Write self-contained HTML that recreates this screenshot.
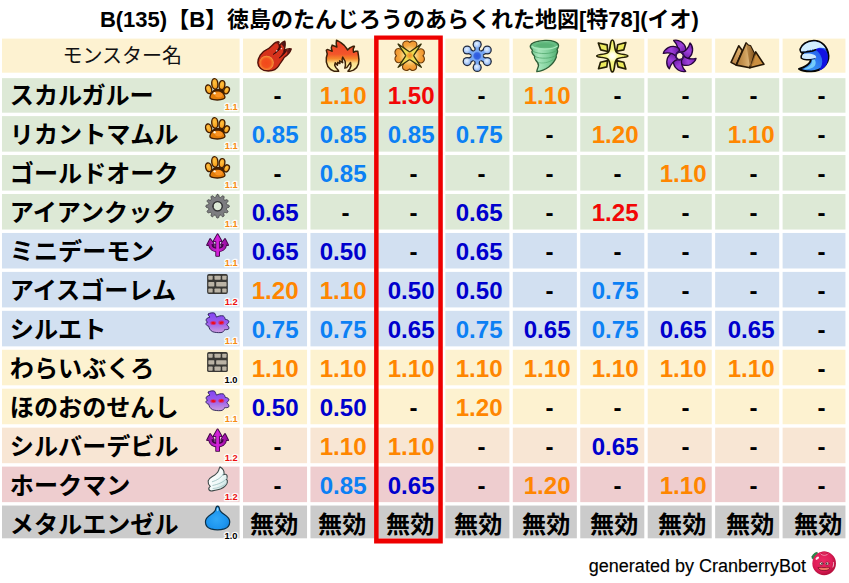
<!DOCTYPE html>
<html lang="ja"><head><meta charset="utf-8"><title>B(135) monster resistance table</title>
<style>
html,body{margin:0;padding:0;background:#fff;}
body{width:849px;height:583px;position:relative;overflow:hidden;font-family:"Liberation Sans",sans-serif;}
svg.main{position:absolute;left:0;top:0;display:block;}
svg.main text{font-family:"Liberation Sans","Noto Sans CJK JP",sans-serif;}
svg.main text.n{font-size:24.1px;font-weight:bold;fill:#000;}
svg.main text.v{font-size:24.1px;font-weight:bold;text-anchor:middle;}
svg.main text.m{font-size:24.1px;font-weight:bold;fill:#000;}
svg.main text.sh{font-size:9.3px;font-weight:bold;fill:none;stroke:#fff;stroke-opacity:.9;stroke-width:2.7;stroke-linejoin:round;}
svg.main text.s{font-size:9.3px;font-weight:bold;}
.foot{position:absolute;left:588.6px;top:555.3px;font-size:18px;line-height:22px;color:transparent;white-space:nowrap;letter-spacing:0;}
table.sem{position:absolute;left:0;top:36px;width:846px;border-collapse:collapse;color:transparent;font-size:10px;line-height:10px;pointer-events:none;table-layout:fixed;}
table.sem caption{position:absolute;top:-30px;left:100px;white-space:nowrap;}
table.sem th,table.sem td{height:38.9px;padding:0;overflow:hidden;white-space:nowrap;font-weight:normal;}
table.sem th:first-child{width:241px;}
</style></head><body>
<svg class="main" width="849" height="583" viewBox="0 0 849 583">
<defs>

<radialGradient id="gr-ball" gradientUnits="userSpaceOnUse" cx="185" cy="405" r="120"><stop offset="0" stop-color="#F2481A"/><stop offset=".6" stop-color="#F2501E"/><stop offset=".85" stop-color="#F57C2C"/><stop offset="1" stop-color="#F8A850"/></radialGradient>
<linearGradient id="gr-flame" gradientUnits="userSpaceOnUse" x1="0" y1="35" x2="0" y2="540"><stop offset="0" stop-color="#EE4228"/><stop offset=".45" stop-color="#F2552A"/><stop offset=".6" stop-color="#F58A2C"/><stop offset=".74" stop-color="#FBE08C"/><stop offset="1" stop-color="#FBF8B4"/></linearGradient>
<radialGradient id="gr-petal" gradientUnits="userSpaceOnUse" cx="335" cy="285" r="250"><stop offset="0" stop-color="#FFF2B8"/><stop offset=".35" stop-color="#FBDC88"/><stop offset=".65" stop-color="#F5A840"/><stop offset="1" stop-color="#EE8E28"/></radialGradient>
<radialGradient id="gr-lightc" gradientUnits="userSpaceOnUse" cx="335" cy="285" r="75"><stop offset="0" stop-color="#F28C28"/><stop offset=".5" stop-color="#F2A030" stop-opacity=".8"/><stop offset="1" stop-color="#EED640" stop-opacity="0"/></radialGradient>
<radialGradient id="gr-icec" cx=".42" cy=".38" r=".65"><stop offset="0" stop-color="#E6F2FF"/><stop offset=".55" stop-color="#B6D2FA"/><stop offset="1" stop-color="#86AEF0"/></radialGradient>
<radialGradient id="gr-icecore" gradientUnits="userSpaceOnUse" cx="327" cy="290" r="70"><stop offset="0" stop-color="#2C58DE"/><stop offset=".7" stop-color="#3564E2"/><stop offset="1" stop-color="#6C9CF0"/></radialGradient>
<linearGradient id="gr-wind" gradientUnits="userSpaceOnUse" x1="100" y1="0" x2="560" y2="0"><stop offset="0" stop-color="#6CC088"/><stop offset=".3" stop-color="#A8E6BC"/><stop offset=".65" stop-color="#80D09C"/><stop offset="1" stop-color="#4EAA6C"/></linearGradient>
<radialGradient id="gr-bomb" gradientUnits="userSpaceOnUse" cx="330" cy="290" r="250"><stop offset="0" stop-color="#FFFFFF"/><stop offset=".18" stop-color="#FFFFE0"/><stop offset=".4" stop-color="#F8F888"/><stop offset="1" stop-color="#F0F060"/></radialGradient>
<linearGradient id="gr-dark" gradientUnits="userSpaceOnUse" x1="-90" y1="-240" x2="60" y2="-50"><stop offset="0" stop-color="#7A22B6"/><stop offset=".5" stop-color="#9E40DC"/><stop offset="1" stop-color="#6E1CA6"/></linearGradient>
<linearGradient id="gr-earthL" gradientUnits="userSpaceOnUse" x1="190" y1="125" x2="120" y2="430"><stop offset="0" stop-color="#E4B874"/><stop offset="1" stop-color="#B88244"/></linearGradient>
<linearGradient id="gr-earthM" gradientUnits="userSpaceOnUse" x1="160" y1="0" x2="370" y2="0"><stop offset="0" stop-color="#AE7A38"/><stop offset=".6" stop-color="#CC9C58"/><stop offset="1" stop-color="#DEB87C"/></linearGradient>
<linearGradient id="gr-earthR" gradientUnits="userSpaceOnUse" x1="340" y1="0" x2="440" y2="0"><stop offset="0" stop-color="#B48444"/><stop offset="1" stop-color="#85561F"/></linearGradient>
<linearGradient id="gr-water" gradientUnits="userSpaceOnUse" x1="520" y1="150" x2="150" y2="520"><stop offset="0" stop-color="#2050EC"/><stop offset=".4" stop-color="#2C70F0"/><stop offset=".75" stop-color="#3890F2"/><stop offset="1" stop-color="#2878E8"/></linearGradient>
<radialGradient id="gr-toe" cx=".45" cy=".4" r=".7"><stop offset="0" stop-color="#FFC444"/><stop offset=".6" stop-color="#F8A422"/><stop offset="1" stop-color="#EE8C10"/></radialGradient>
<linearGradient id="gr-ghost" gradientUnits="userSpaceOnUse" x1="0" y1="50" x2="0" y2="365"><stop offset="0" stop-color="#8444F2"/><stop offset=".5" stop-color="#9A5CEC"/><stop offset="1" stop-color="#CC9CDE"/></linearGradient>
<linearGradient id="gr-demon" gradientUnits="userSpaceOnUse" x1="100" y1="0" x2="470" y2="0"><stop offset="0" stop-color="#8C0C94"/><stop offset=".5" stop-color="#D422DA"/><stop offset="1" stop-color="#860A8E"/></linearGradient>
<linearGradient id="gr-wing" gradientUnits="userSpaceOnUse" x1="150" y1="150" x2="420" y2="330"><stop offset="0" stop-color="#FFFFFF"/><stop offset=".6" stop-color="#EEF8F8"/><stop offset="1" stop-color="#C8E0E0"/></linearGradient>
<radialGradient id="gr-slime" gradientUnits="userSpaceOnUse" cx="270" cy="230" r="230"><stop offset="0" stop-color="#30A8F8"/><stop offset=".7" stop-color="#1C94EE"/><stop offset="1" stop-color="#1480D8"/></radialGradient>
<radialGradient id="gr-cran" gradientUnits="userSpaceOnUse" cx="330" cy="270" r="190"><stop offset="0" stop-color="#EC2A64"/><stop offset=".7" stop-color="#E01C58"/><stop offset="1" stop-color="#B8103E"/></radialGradient>
<filter id="f-blur6" x="-50%" y="-50%" width="200%" height="200%"><feGaussianBlur stdDeviation="7"/></filter>
<g id="ic-fireball"><g transform="translate(-20.030 -17.55) scale(0.06173)" stroke-linejoin="round" stroke-linecap="round">
<path d="M46 400C46 320 100 225 195 185C250 160 285 100 335 72C358 62 385 60 390 66C380 88 380 112 396 132C408 100 448 65 482 50C494 80 490 140 472 200C505 182 560 172 587 178C574 220 525 280 472 315C455 350 420 395 388 445C355 505 290 534 215 534C110 532 46 472 46 400Z" fill="#D6321C" stroke="#52120A" stroke-width="22"/>
<path d="M425 105C450 75 470 60 482 52C490 80 488 120 474 170C465 135 445 115 425 105Z" fill="#3A1016" opacity=".85"/>
<path d="M515 205C545 182 570 176 585 178C572 205 550 235 520 262C528 240 526 220 515 205Z" fill="#3A1016" opacity=".75"/>
<path d="M330 82C355 66 380 62 388 66C382 80 378 100 388 125C372 102 352 90 330 82Z" fill="#6A1612" opacity=".7"/>
<path d="M396 128C392 170 350 225 296 266C345 235 400 200 420 150Z" fill="#3A0A0A" stroke="#3A0A0A" stroke-width="14"/>
<path d="M472 198C462 245 430 290 390 326C440 295 490 250 512 205Z" fill="#420C0C" stroke="#420C0C" stroke-width="12"/>
<circle cx="352" cy="208" r="13" fill="#fff" opacity=".75"/><circle cx="428" cy="172" r="13" fill="#fff" opacity=".75"/>
<circle cx="188" cy="402" r="116" fill="url(#gr-ball)"/>
</g></g>
<g id="ic-flame"><g transform="translate(-20.475 -17.55) scale(0.06173)" stroke-linejoin="round" stroke-linecap="round">
<path d="M235 35L300 70L360 120L400 170L415 195L450 160L500 135L525 135L505 180L510 230L545 215L580 215L590 280L598 350L590 420L560 480L510 520L450 540L420 538L450 500L470 450L462 395L430 440L400 480L370 488L380 440L375 380L335 310L325 350L335 400L285 370L290 415L255 395L250 440L215 400L205 440L225 480L260 520L270 540L200 540L140 510L95 460L70 390L70 320L85 260L70 200L85 185L130 200L165 215L150 160L165 115L200 130L240 145L230 90Z" fill="url(#gr-flame)" stroke="#3A2008" stroke-width="24"/>
</g></g>
<g id="ic-light"><g transform="translate(-20.925 -17.55) scale(0.06173)" stroke-linejoin="round" stroke-linecap="round"><path d="M335 255C300 222 225 165 222 108C220 62 270 42 300 50C320 55 335 72 335 72C335 72 350 55 372 50C405 42 455 62 452 108C448 165 370 222 335 255Z" transform="rotate(0 335 287)" fill="url(#gr-petal)" stroke="#6A3C0C" stroke-width="18"/><path d="M335 255C300 222 225 165 222 108C220 62 270 42 300 50C320 55 335 72 335 72C335 72 350 55 372 50C405 42 455 62 452 108C448 165 370 222 335 255Z" transform="rotate(90 335 287)" fill="url(#gr-petal)" stroke="#6A3C0C" stroke-width="18"/><path d="M335 255C300 222 225 165 222 108C220 62 270 42 300 50C320 55 335 72 335 72C335 72 350 55 372 50C405 42 455 62 452 108C448 165 370 222 335 255Z" transform="rotate(180 335 287)" fill="url(#gr-petal)" stroke="#6A3C0C" stroke-width="18"/><path d="M335 255C300 222 225 165 222 108C220 62 270 42 300 50C320 55 335 72 335 72C335 72 350 55 372 50C405 42 455 62 452 108C448 165 370 222 335 255Z" transform="rotate(270 335 287)" fill="url(#gr-petal)" stroke="#6A3C0C" stroke-width="18"/><path d="M335 226L520 98L397 287L524 474L335 348L148 474L273 287L148 98Z" fill="#ECDC54" stroke="#33300A" stroke-width="22"/><circle cx="335" cy="287" r="75" fill="url(#gr-lightc)"/></g></g>
<g id="ic-ice"><g transform="translate(-20.375 -17.55) scale(0.06173)" stroke-linejoin="round" stroke-linecap="round"><line x1="327" y1="290" x2="327" y2="105" stroke="#222A3C" stroke-width="92"/><line x1="327" y1="290" x2="490" y2="195" stroke="#222A3C" stroke-width="92"/><line x1="327" y1="290" x2="490" y2="382" stroke="#222A3C" stroke-width="92"/><line x1="327" y1="290" x2="327" y2="478" stroke="#222A3C" stroke-width="92"/><line x1="327" y1="290" x2="165" y2="382" stroke="#222A3C" stroke-width="92"/><line x1="327" y1="290" x2="165" y2="195" stroke="#222A3C" stroke-width="92"/><circle cx="327" cy="105" r="74" fill="#222A3C"/><circle cx="490" cy="195" r="74" fill="#222A3C"/><circle cx="490" cy="382" r="74" fill="#222A3C"/><circle cx="327" cy="478" r="74" fill="#222A3C"/><circle cx="165" cy="382" r="74" fill="#222A3C"/><circle cx="165" cy="195" r="74" fill="#222A3C"/><polygon points="429,349 327,408 225,349 225,231 327,172 429,231" fill="#222A3C"/><line x1="327" y1="290" x2="327" y2="105" stroke="#78A8F2" stroke-width="52"/><line x1="327" y1="290" x2="490" y2="195" stroke="#78A8F2" stroke-width="52"/><line x1="327" y1="290" x2="490" y2="382" stroke="#78A8F2" stroke-width="52"/><line x1="327" y1="290" x2="327" y2="478" stroke="#78A8F2" stroke-width="52"/><line x1="327" y1="290" x2="165" y2="382" stroke="#78A8F2" stroke-width="52"/><line x1="327" y1="290" x2="165" y2="195" stroke="#78A8F2" stroke-width="52"/><polygon points="419,343 327,396 235,343 235,237 327,184 419,237" fill="#78A8F2"/><circle cx="327" cy="105" r="54" fill="url(#gr-icec)"/><circle cx="490" cy="195" r="54" fill="url(#gr-icec)"/><circle cx="490" cy="382" r="54" fill="url(#gr-icec)"/><circle cx="327" cy="478" r="54" fill="url(#gr-icec)"/><circle cx="165" cy="382" r="54" fill="url(#gr-icec)"/><circle cx="165" cy="195" r="54" fill="url(#gr-icec)"/><circle cx="327" cy="290" r="70" fill="url(#gr-icecore)"/></g></g>
<g id="ic-wind"><g transform="translate(-20.825 -17.55) scale(0.06173)" stroke-linejoin="round" stroke-linecap="round">
<path d="M100 130C110 85 200 45 340 38C460 32 560 70 560 125C560 150 545 165 535 190C548 205 545 235 530 262C520 275 518 290 524 308C510 350 470 415 400 470C340 515 260 540 207 545C205 520 225 490 235 450C240 420 215 385 190 360C170 340 165 315 172 295C150 275 130 250 127 225C128 210 135 202 138 198C115 180 98 155 100 130Z" fill="url(#gr-wind)" stroke="#2E5E38" stroke-width="21"/>
<ellipse cx="335" cy="112" rx="196" ry="56" fill="#66BC82"/>
<ellipse cx="340" cy="120" rx="150" ry="34" fill="#58B074" opacity=".8"/>
<path d="M132 138C200 195 470 195 540 130" fill="none" stroke="#A6E8BA" stroke-width="18"/>
<path d="M145 215C230 268 450 268 532 200" fill="none" stroke="#4AA266" stroke-width="13" opacity=".85"/>
<path d="M178 300C260 342 440 338 518 282" fill="none" stroke="#4AA266" stroke-width="13" opacity=".85"/>
<path d="M228 395C290 420 400 400 462 355" fill="none" stroke="#3A9456" stroke-width="11" opacity=".6"/>
</g></g>
<g id="ic-bomb"><g transform="translate(-20.275 -17.55) scale(0.06173)" stroke-linejoin="round" stroke-linecap="round">
<g fill="#ECEA5C" stroke="#241F06" stroke-width="27">
<path d="M102 80L245 112L255 218L142 192Z"/><path d="M548 73L416 110L398 215L515 192Z"/><path d="M106 498L138 392L252 366L240 468Z"/><path d="M548 503L515 392L398 366L422 468Z"/></g>
<path d="M330 32C345 32 358 60 365 120C370 170 380 215 400 235C420 255 470 262 520 268C560 274 580 282 580 290C580 298 560 306 520 312C470 318 420 325 400 345C380 365 370 410 365 460C358 520 345 550 330 550C315 550 302 520 295 460C290 410 280 365 260 345C240 325 190 318 140 312C100 306 78 298 78 290C78 282 100 274 140 268C190 262 240 255 260 235C280 215 290 170 295 120C302 60 315 32 330 32Z" fill="url(#gr-bomb)" stroke="#241F06" stroke-width="27"/>
</g></g>
<g id="ic-dark"><g transform="translate(-20.725 -17.55) scale(0.06173)" stroke-linejoin="round" stroke-linecap="round"><g transform="translate(335 290)"><path d="M-98 -250C-15 -272 78 -212 100 -122C108 -88 96 -58 76 -46L22 -60L-34 -52C-18 -112 -40 -188 -98 -250Z" transform="rotate(0)" fill="url(#gr-dark)" stroke="#26063A" stroke-width="21"/><path d="M-98 -250C-15 -272 78 -212 100 -122C108 -88 96 -58 76 -46L22 -60L-34 -52C-18 -112 -40 -188 -98 -250Z" transform="rotate(60)" fill="url(#gr-dark)" stroke="#26063A" stroke-width="21"/><path d="M-98 -250C-15 -272 78 -212 100 -122C108 -88 96 -58 76 -46L22 -60L-34 -52C-18 -112 -40 -188 -98 -250Z" transform="rotate(120)" fill="url(#gr-dark)" stroke="#26063A" stroke-width="21"/><path d="M-98 -250C-15 -272 78 -212 100 -122C108 -88 96 -58 76 -46L22 -60L-34 -52C-18 -112 -40 -188 -98 -250Z" transform="rotate(180)" fill="url(#gr-dark)" stroke="#26063A" stroke-width="21"/><path d="M-98 -250C-15 -272 78 -212 100 -122C108 -88 96 -58 76 -46L22 -60L-34 -52C-18 -112 -40 -188 -98 -250Z" transform="rotate(240)" fill="url(#gr-dark)" stroke="#26063A" stroke-width="21"/><path d="M-98 -250C-15 -272 78 -212 100 -122C108 -88 96 -58 76 -46L22 -60L-34 -52C-18 -112 -40 -188 -98 -250Z" transform="rotate(300)" fill="url(#gr-dark)" stroke="#26063A" stroke-width="21"/><circle r="63" fill="none" stroke="#34105A" stroke-width="28"/></g></g></g>
<g id="ic-earth"><g transform="translate(-20.175 -17.55) scale(0.06173)" stroke-linejoin="round" stroke-linecap="round">
<g stroke="#241606" stroke-width="26">
<path d="M65 395L190 125L250 205L150 440Z" fill="url(#gr-earthL)"/>
<path d="M150 440L310 80L345 118L378 125L440 245L370 482Z" fill="url(#gr-earthM)"/>
<path d="M370 482L465 225L598 425Z" fill="#CC9040"/>
</g>
<path d="M310 90L343 122L376 130L436 248L372 470L345 300Z" fill="url(#gr-earthR)"/>
<path d="M372 470L462 240L440 400Z" fill="#B07A34" opacity=".7"/>
</g></g>
<g id="ic-water"><g transform="translate(-20.625 -17.55) scale(0.06173)" stroke-linejoin="round" stroke-linecap="round">
<path d="M100 182C120 110 210 45 320 42C440 40 550 140 560 290C565 420 450 535 280 540C200 542 120 525 80 500C150 480 240 440 265 380C272 365 270 350 265 345C220 352 150 350 122 325C112 300 130 270 150 255C125 240 100 215 100 182Z" fill="url(#gr-water)" stroke="#060606" stroke-width="30"/>
<path d="M345 185C400 150 480 165 535 235C560 300 555 380 520 440C490 490 440 520 400 530C450 470 470 400 450 330C435 270 395 215 345 185Z" fill="#1212E2"/>
<path d="M300 330C345 340 370 400 335 455C300 495 220 515 150 508C220 480 280 440 290 390C295 365 290 345 300 330Z" fill="#74CCFA"/>
<path d="M113 185C135 115 215 58 320 55C400 55 475 95 515 175C470 150 400 150 350 178C340 190 325 204 320 200L300 180L285 205L265 185L250 210L220 200L190 220L150 215L125 230C115 212 110 195 113 185Z" fill="#D2EEFF"/>
<path d="M150 258C200 245 290 245 340 280C360 295 362 315 355 335C330 322 300 325 270 340C220 345 160 342 130 320C125 295 135 275 150 258Z" fill="#CBE9FF"/>
<path d="M122 232L190 226L250 216L300 210L348 190" fill="none" stroke="#060606" stroke-width="26"/>
<path d="M262 348C290 350 320 340 345 330" fill="none" stroke="#0A0A30" stroke-width="14" opacity=".8"/>
</g></g>
<g id="ic-paw"><g transform="translate(0 -1.550) scale(0.06173)" stroke-linejoin="round" stroke-linecap="round"><path d="M185 255L245 205L355 212L410 262L385 305L195 305Z" fill="#3E1C02"/><path d="M160 340C165 290 210 240 280 238C350 238 400 290 405 340C405 370 380 385 280 388C190 385 158 370 160 340Z" fill="#E27C0A" stroke="#431F02" stroke-width="22"/><ellipse cx="305" cy="305" rx="62" ry="42" fill="#FF9828" opacity=".85"/><circle cx="236" cy="280" r="19" fill="#FFF4D8"/><ellipse cx="140" cy="215" rx="48" ry="72" transform="rotate(-15 140 215)" fill="url(#gr-toe)" stroke="#431F02" stroke-width="22"/><ellipse cx="240" cy="127" rx="50" ry="85" transform="rotate(-5 240 127)" fill="url(#gr-toe)" stroke="#431F02" stroke-width="22"/><ellipse cx="356" cy="147" rx="46" ry="73" transform="rotate(8 356 147)" fill="url(#gr-toe)" stroke="#431F02" stroke-width="22"/><ellipse cx="430" cy="232" rx="42" ry="59" transform="rotate(25 430 232)" fill="url(#gr-toe)" stroke="#431F02" stroke-width="22"/></g></g>
<g id="ic-gear"><g transform="translate(0 -1.590) scale(0.06173)" stroke-linejoin="round" stroke-linecap="round"><path d="M285 24L289 24L293 25L297 27L301 31L304 37L307 46L310 56L312 62L315 66L317 69L320 70L324 71L327 72L330 72L334 72L338 69L343 65L350 58L357 51L363 47L368 46L373 46L377 48L380 50L384 52L387 55L390 58L391 63L391 71L388 80L386 89L385 96L385 101L386 104L388 107L390 110L393 112L396 114L399 115L404 115L411 114L420 112L429 109L437 109L442 110L445 113L448 116L450 120L452 123L454 127L454 132L453 137L449 143L442 150L435 157L431 162L428 166L428 170L428 173L429 176L430 180L431 183L434 185L438 188L444 190L454 193L463 196L469 199L473 203L475 207L476 211L476 215L476 219L475 223L473 227L469 231L463 234L454 237L444 240L438 242L434 245L431 247L430 250L429 254L428 257L428 260L428 264L431 268L435 273L442 280L449 287L453 293L454 298L454 303L452 307L450 310L448 314L445 317L442 320L437 321L429 321L420 318L411 316L404 315L399 315L396 316L393 318L390 320L388 323L386 326L385 329L385 334L386 341L388 350L391 359L391 367L390 372L387 375L384 378L381 380L377 382L373 384L368 384L363 383L357 379L350 372L343 365L338 361L334 358L330 358L327 358L324 359L320 360L317 361L315 364L312 368L310 374L307 384L304 393L301 399L297 403L293 405L289 406L285 406L281 406L277 405L273 403L269 399L266 393L263 384L260 374L258 368L255 364L253 361L250 360L246 359L243 358L240 358L236 358L232 361L227 365L220 372L213 379L207 383L202 384L197 384L193 382L189 380L186 378L183 375L180 372L179 367L179 359L182 350L184 341L185 334L185 329L184 326L182 323L180 320L177 318L174 316L171 315L166 315L159 316L150 318L141 321L133 321L128 320L125 317L122 314L120 311L118 307L116 303L116 298L117 293L121 287L128 280L135 273L139 268L142 264L142 260L142 257L141 254L140 250L139 247L136 245L132 242L126 240L116 237L107 234L101 231L97 227L95 223L94 219L94 215L94 211L95 207L97 203L101 199L107 196L116 193L126 190L132 188L136 185L139 183L140 180L141 176L142 173L142 170L142 166L139 162L135 157L128 150L121 143L117 137L116 132L116 127L118 123L120 120L122 116L125 113L128 110L133 109L141 109L150 112L159 114L166 115L171 115L174 114L177 112L180 110L182 107L184 104L185 101L185 96L184 89L182 80L179 71L179 63L180 58L183 55L186 52L190 50L193 48L197 46L202 46L207 47L213 51L220 58L227 65L232 69L236 72L240 72L243 72L246 71L250 70L253 69L255 66L258 62L260 56L263 46L266 37L269 31L273 27L277 25L281 24ZM285 215m-72 0a72 72 0 1 0 144 0a72 72 0 1 0 -144 0Z" fill="#7C7C80" fill-rule="evenodd" stroke="#3E3E40" stroke-width="13"/><circle cx="285" cy="215" r="78" fill="none" stroke="#303032" stroke-width="17"/></g></g>
<g id="ic-demon"><g transform="translate(0 -1.610) scale(0.06173)" stroke-linejoin="round" stroke-linecap="round"><g fill="#3C0442" stroke="#3C0442" stroke-width="28"><path d="M285 36L350 148L220 148Z"/><path d="M165 112L222 192L114 212Z"/><path d="M405 112L456 212L348 192Z"/><rect x="262" y="140" width="48" height="246"/></g><path d="M175 200C180 320 390 320 395 200Z" fill="#4A0850"/><path d="M166 205C172 325 398 325 404 205" fill="none" stroke="#3C0442" stroke-width="68"/><path d="M166 205C172 325 398 325 404 205" fill="none" stroke="url(#gr-demon)" stroke-width="42"/><g fill="url(#gr-demon)"><path d="M285 36L350 148L220 148Z"/><path d="M165 112L222 192L114 212Z"/><path d="M405 112L456 212L348 192Z"/><rect x="262" y="140" width="48" height="246"/></g><path d="M240 168V240M331 168V240" stroke="#E4D6EE" stroke-width="13" stroke-linecap="butt" stroke-dasharray="17 32" fill="none"/></g></g>
<g id="ic-brick"><g transform="translate(0 -1.620) scale(0.06173)" stroke-linejoin="round" stroke-linecap="round"><rect x="115" y="50" width="336" height="322" rx="30" fill="#393835"/><rect x="135" y="75" width="70" height="65" rx="10" fill="#BAB3A5"/><rect x="235" y="75" width="100" height="65" rx="10" fill="#BAB3A5"/><rect x="360" y="75" width="70" height="65" rx="10" fill="#BAB3A5"/><rect x="135" y="180" width="97" height="70" rx="10" fill="#BAB3A5"/><rect x="262" y="180" width="168" height="70" rx="10" fill="#BAB3A5"/><rect x="135" y="285" width="70" height="65" rx="10" fill="#BAB3A5"/><rect x="235" y="285" width="100" height="65" rx="10" fill="#BAB3A5"/><rect x="360" y="285" width="70" height="65" rx="10" fill="#BAB3A5"/></g></g>
<g id="ic-ghost"><g transform="translate(0 -1.630) scale(0.06173)" stroke-linejoin="round" stroke-linecap="round">
<path d="M135 65C150 45 215 40 238 52C252 70 255 100 268 115C295 100 340 85 378 96C400 110 405 135 407 150C440 155 470 170 468 188C462 215 445 228 432 236C455 255 475 285 468 302C450 322 420 320 400 316C395 340 370 362 340 366C290 370 230 362 205 352C170 335 145 300 142 262C115 258 95 240 96 222C100 205 112 200 122 198C100 185 92 160 106 142C125 125 150 118 162 114C140 100 128 80 135 65Z" fill="url(#gr-ghost)" stroke="#2A2058" stroke-width="15"/>
<g filter="url(#f-blur6)"><ellipse cx="215" cy="212" rx="48" ry="32" fill="#E8184A" opacity=".7"/><ellipse cx="345" cy="206" rx="48" ry="34" fill="#E8184A" opacity=".7"/></g>
<ellipse cx="215" cy="212" rx="30" ry="17" transform="rotate(14 215 212)" fill="#EE0C18"/><ellipse cx="345" cy="206" rx="30" ry="18" transform="rotate(-14 345 206)" fill="#EE0C18"/>
</g></g>
<g id="ic-wing"><g transform="translate(0 -1.690) scale(0.06173)" stroke-linejoin="round" stroke-linecap="round">
<path d="M325 15C362 35 392 75 390 118C388 128 382 135 376 142C400 128 426 130 436 150C446 175 442 200 430 220C440 226 447 246 442 268C432 305 400 340 340 370C300 388 230 398 182 406C158 400 140 380 142 360C148 345 158 335 166 330C140 305 128 270 132 240C138 210 165 190 200 170C245 145 290 105 302 70C310 50 312 30 325 15Z" fill="url(#gr-wing)" stroke="#3C4848" stroke-width="18"/>
<path d="M200 255C270 235 350 190 388 118" fill="none" stroke="#9CC0C0" stroke-width="14"/>
<path d="M208 315C290 300 400 255 438 195" fill="none" stroke="#9CC0C0" stroke-width="14"/>
<path d="M212 365C290 360 385 320 425 290" fill="none" stroke="#9CC0C0" stroke-width="12"/>
</g></g>
<g id="ic-slime"><g transform="translate(0 -1.700) scale(0.06173)" stroke-linejoin="round" stroke-linecap="round">
<path d="M285 18C302 18 314 40 318 72C322 100 345 122 390 150C445 185 482 225 482 275C480 335 440 372 395 387C330 405 240 405 175 387C128 372 90 335 88 275C88 225 125 185 180 150C225 122 248 100 252 72C256 40 268 18 285 18Z" fill="url(#gr-slime)" stroke="#0A3048" stroke-width="19"/>
<ellipse cx="285" cy="72" rx="14" ry="30" fill="#A8E0FF" opacity=".85"/>
</g></g>
<g id="ic-cranberry"><g transform="scale(0.06861)" stroke-linejoin="round" stroke-linecap="round">
<path d="M175 200C185 165 215 140 250 135C262 150 262 175 250 195C232 215 205 235 188 238C178 228 172 215 175 200Z" fill="#2C8A4C" stroke="#1C5A30" stroke-width="8"/>
<circle cx="352" cy="297" r="172" fill="url(#gr-cran)"/>
<ellipse cx="355" cy="150" rx="48" ry="20" fill="#D81850"/>
<path d="M305 160C320 185 390 185 405 160" fill="none" stroke="#FFE8EE" stroke-width="9"/>
<ellipse cx="252" cy="222" rx="30" ry="17" transform="rotate(-40 252 222)" fill="#fff" opacity=".9"/>
<path d="M488 285C492 305 488 335 480 350" fill="none" stroke="#fff" stroke-width="12" opacity=".85"/>
<ellipse cx="312" cy="300" rx="27" ry="22" fill="#F8F4E8" stroke="#6A0824" stroke-width="9"/><ellipse cx="396" cy="300" rx="27" ry="22" fill="#F8F4E8" stroke="#6A0824" stroke-width="9"/>
<circle cx="318" cy="301" r="11" fill="#1A1014"/><circle cx="390" cy="301" r="11" fill="#1A1014"/>
<path d="M266 362C276 350 300 356 350 358C400 356 424 350 436 362C432 390 398 402 350 402C302 402 270 390 266 362Z" fill="#F07464" stroke="#7E0A28" stroke-width="11"/>
<ellipse cx="355" cy="146" rx="46" ry="17" fill="#E8285E" stroke="#A80E3A" stroke-width="6"/>
</g></g>

</defs>
<rect x="2.00" y="38.60" width="237.60" height="34.10" fill="#FDF2D1"/>
<rect x="243.00" y="38.60" width="64.05" height="34.10" fill="#FDF2D1"/>
<rect x="310.45" y="38.60" width="64.05" height="34.10" fill="#FDF2D1"/>
<rect x="377.90" y="38.60" width="64.05" height="34.10" fill="#FDF2D1"/>
<rect x="445.35" y="38.60" width="64.05" height="34.10" fill="#FDF2D1"/>
<rect x="512.80" y="38.60" width="64.05" height="34.10" fill="#FDF2D1"/>
<rect x="580.25" y="38.60" width="64.05" height="34.10" fill="#FDF2D1"/>
<rect x="647.70" y="38.60" width="64.05" height="34.10" fill="#FDF2D1"/>
<rect x="715.15" y="38.60" width="64.05" height="34.10" fill="#FDF2D1"/>
<rect x="782.60" y="38.60" width="62.85" height="34.10" fill="#FDF2D1"/>
<rect x="2.00" y="78.14" width="237.60" height="34.56" fill="#DDE9D6"/>
<rect x="243.00" y="78.14" width="64.05" height="34.56" fill="#DDE9D6"/>
<rect x="310.45" y="78.14" width="64.05" height="34.56" fill="#DDE9D6"/>
<rect x="377.90" y="78.14" width="64.05" height="34.56" fill="#DDE9D6"/>
<rect x="445.35" y="78.14" width="64.05" height="34.56" fill="#DDE9D6"/>
<rect x="512.80" y="78.14" width="64.05" height="34.56" fill="#DDE9D6"/>
<rect x="580.25" y="78.14" width="64.05" height="34.56" fill="#DDE9D6"/>
<rect x="647.70" y="78.14" width="64.05" height="34.56" fill="#DDE9D6"/>
<rect x="715.15" y="78.14" width="64.05" height="34.56" fill="#DDE9D6"/>
<rect x="782.60" y="78.14" width="62.85" height="34.56" fill="#DDE9D6"/>
<rect x="2.00" y="116.10" width="237.60" height="35.55" fill="#DDE9D6"/>
<rect x="243.00" y="116.10" width="64.05" height="35.55" fill="#DDE9D6"/>
<rect x="310.45" y="116.10" width="64.05" height="35.55" fill="#DDE9D6"/>
<rect x="377.90" y="116.10" width="64.05" height="35.55" fill="#DDE9D6"/>
<rect x="445.35" y="116.10" width="64.05" height="35.55" fill="#DDE9D6"/>
<rect x="512.80" y="116.10" width="64.05" height="35.55" fill="#DDE9D6"/>
<rect x="580.25" y="116.10" width="64.05" height="35.55" fill="#DDE9D6"/>
<rect x="647.70" y="116.10" width="64.05" height="35.55" fill="#DDE9D6"/>
<rect x="715.15" y="116.10" width="64.05" height="35.55" fill="#DDE9D6"/>
<rect x="782.60" y="116.10" width="62.85" height="35.55" fill="#DDE9D6"/>
<rect x="2.00" y="155.04" width="237.60" height="35.55" fill="#DDE9D6"/>
<rect x="243.00" y="155.04" width="64.05" height="35.55" fill="#DDE9D6"/>
<rect x="310.45" y="155.04" width="64.05" height="35.55" fill="#DDE9D6"/>
<rect x="377.90" y="155.04" width="64.05" height="35.55" fill="#DDE9D6"/>
<rect x="445.35" y="155.04" width="64.05" height="35.55" fill="#DDE9D6"/>
<rect x="512.80" y="155.04" width="64.05" height="35.55" fill="#DDE9D6"/>
<rect x="580.25" y="155.04" width="64.05" height="35.55" fill="#DDE9D6"/>
<rect x="647.70" y="155.04" width="64.05" height="35.55" fill="#DDE9D6"/>
<rect x="715.15" y="155.04" width="64.05" height="35.55" fill="#DDE9D6"/>
<rect x="782.60" y="155.04" width="62.85" height="35.55" fill="#DDE9D6"/>
<rect x="2.00" y="193.99" width="237.60" height="35.55" fill="#DDE9D6"/>
<rect x="243.00" y="193.99" width="64.05" height="35.55" fill="#DDE9D6"/>
<rect x="310.45" y="193.99" width="64.05" height="35.55" fill="#DDE9D6"/>
<rect x="377.90" y="193.99" width="64.05" height="35.55" fill="#DDE9D6"/>
<rect x="445.35" y="193.99" width="64.05" height="35.55" fill="#DDE9D6"/>
<rect x="512.80" y="193.99" width="64.05" height="35.55" fill="#DDE9D6"/>
<rect x="580.25" y="193.99" width="64.05" height="35.55" fill="#DDE9D6"/>
<rect x="647.70" y="193.99" width="64.05" height="35.55" fill="#DDE9D6"/>
<rect x="715.15" y="193.99" width="64.05" height="35.55" fill="#DDE9D6"/>
<rect x="782.60" y="193.99" width="62.85" height="35.55" fill="#DDE9D6"/>
<rect x="2.00" y="232.94" width="237.60" height="35.55" fill="#D2E0F1"/>
<rect x="243.00" y="232.94" width="64.05" height="35.55" fill="#D2E0F1"/>
<rect x="310.45" y="232.94" width="64.05" height="35.55" fill="#D2E0F1"/>
<rect x="377.90" y="232.94" width="64.05" height="35.55" fill="#D2E0F1"/>
<rect x="445.35" y="232.94" width="64.05" height="35.55" fill="#D2E0F1"/>
<rect x="512.80" y="232.94" width="64.05" height="35.55" fill="#D2E0F1"/>
<rect x="580.25" y="232.94" width="64.05" height="35.55" fill="#D2E0F1"/>
<rect x="647.70" y="232.94" width="64.05" height="35.55" fill="#D2E0F1"/>
<rect x="715.15" y="232.94" width="64.05" height="35.55" fill="#D2E0F1"/>
<rect x="782.60" y="232.94" width="62.85" height="35.55" fill="#D2E0F1"/>
<rect x="2.00" y="271.88" width="237.60" height="35.55" fill="#D2E0F1"/>
<rect x="243.00" y="271.88" width="64.05" height="35.55" fill="#D2E0F1"/>
<rect x="310.45" y="271.88" width="64.05" height="35.55" fill="#D2E0F1"/>
<rect x="377.90" y="271.88" width="64.05" height="35.55" fill="#D2E0F1"/>
<rect x="445.35" y="271.88" width="64.05" height="35.55" fill="#D2E0F1"/>
<rect x="512.80" y="271.88" width="64.05" height="35.55" fill="#D2E0F1"/>
<rect x="580.25" y="271.88" width="64.05" height="35.55" fill="#D2E0F1"/>
<rect x="647.70" y="271.88" width="64.05" height="35.55" fill="#D2E0F1"/>
<rect x="715.15" y="271.88" width="64.05" height="35.55" fill="#D2E0F1"/>
<rect x="782.60" y="271.88" width="62.85" height="35.55" fill="#D2E0F1"/>
<rect x="2.00" y="310.82" width="237.60" height="35.55" fill="#D2E0F1"/>
<rect x="243.00" y="310.82" width="64.05" height="35.55" fill="#D2E0F1"/>
<rect x="310.45" y="310.82" width="64.05" height="35.55" fill="#D2E0F1"/>
<rect x="377.90" y="310.82" width="64.05" height="35.55" fill="#D2E0F1"/>
<rect x="445.35" y="310.82" width="64.05" height="35.55" fill="#D2E0F1"/>
<rect x="512.80" y="310.82" width="64.05" height="35.55" fill="#D2E0F1"/>
<rect x="580.25" y="310.82" width="64.05" height="35.55" fill="#D2E0F1"/>
<rect x="647.70" y="310.82" width="64.05" height="35.55" fill="#D2E0F1"/>
<rect x="715.15" y="310.82" width="64.05" height="35.55" fill="#D2E0F1"/>
<rect x="782.60" y="310.82" width="62.85" height="35.55" fill="#D2E0F1"/>
<rect x="2.00" y="349.77" width="237.60" height="35.54" fill="#FDF2D0"/>
<rect x="243.00" y="349.77" width="64.05" height="35.54" fill="#FDF2D0"/>
<rect x="310.45" y="349.77" width="64.05" height="35.54" fill="#FDF2D0"/>
<rect x="377.90" y="349.77" width="64.05" height="35.54" fill="#FDF2D0"/>
<rect x="445.35" y="349.77" width="64.05" height="35.54" fill="#FDF2D0"/>
<rect x="512.80" y="349.77" width="64.05" height="35.54" fill="#FDF2D0"/>
<rect x="580.25" y="349.77" width="64.05" height="35.54" fill="#FDF2D0"/>
<rect x="647.70" y="349.77" width="64.05" height="35.54" fill="#FDF2D0"/>
<rect x="715.15" y="349.77" width="64.05" height="35.54" fill="#FDF2D0"/>
<rect x="782.60" y="349.77" width="62.85" height="35.54" fill="#FDF2D0"/>
<rect x="2.00" y="388.71" width="237.60" height="35.55" fill="#FDF2D0"/>
<rect x="243.00" y="388.71" width="64.05" height="35.55" fill="#FDF2D0"/>
<rect x="310.45" y="388.71" width="64.05" height="35.55" fill="#FDF2D0"/>
<rect x="377.90" y="388.71" width="64.05" height="35.55" fill="#FDF2D0"/>
<rect x="445.35" y="388.71" width="64.05" height="35.55" fill="#FDF2D0"/>
<rect x="512.80" y="388.71" width="64.05" height="35.55" fill="#FDF2D0"/>
<rect x="580.25" y="388.71" width="64.05" height="35.55" fill="#FDF2D0"/>
<rect x="647.70" y="388.71" width="64.05" height="35.55" fill="#FDF2D0"/>
<rect x="715.15" y="388.71" width="64.05" height="35.55" fill="#FDF2D0"/>
<rect x="782.60" y="388.71" width="62.85" height="35.55" fill="#FDF2D0"/>
<rect x="2.00" y="427.66" width="237.60" height="35.54" fill="#F8E6D4"/>
<rect x="243.00" y="427.66" width="64.05" height="35.54" fill="#F8E6D4"/>
<rect x="310.45" y="427.66" width="64.05" height="35.54" fill="#F8E6D4"/>
<rect x="377.90" y="427.66" width="64.05" height="35.54" fill="#F8E6D4"/>
<rect x="445.35" y="427.66" width="64.05" height="35.54" fill="#F8E6D4"/>
<rect x="512.80" y="427.66" width="64.05" height="35.54" fill="#F8E6D4"/>
<rect x="580.25" y="427.66" width="64.05" height="35.54" fill="#F8E6D4"/>
<rect x="647.70" y="427.66" width="64.05" height="35.54" fill="#F8E6D4"/>
<rect x="715.15" y="427.66" width="64.05" height="35.54" fill="#F8E6D4"/>
<rect x="782.60" y="427.66" width="62.85" height="35.54" fill="#F8E6D4"/>
<rect x="2.00" y="466.60" width="237.60" height="35.55" fill="#EECDCF"/>
<rect x="243.00" y="466.60" width="64.05" height="35.55" fill="#EECDCF"/>
<rect x="310.45" y="466.60" width="64.05" height="35.55" fill="#EECDCF"/>
<rect x="377.90" y="466.60" width="64.05" height="35.55" fill="#EECDCF"/>
<rect x="445.35" y="466.60" width="64.05" height="35.55" fill="#EECDCF"/>
<rect x="512.80" y="466.60" width="64.05" height="35.55" fill="#EECDCF"/>
<rect x="580.25" y="466.60" width="64.05" height="35.55" fill="#EECDCF"/>
<rect x="647.70" y="466.60" width="64.05" height="35.55" fill="#EECDCF"/>
<rect x="715.15" y="466.60" width="64.05" height="35.55" fill="#EECDCF"/>
<rect x="782.60" y="466.60" width="62.85" height="35.55" fill="#EECDCF"/>
<rect x="2.00" y="505.55" width="237.60" height="32.75" fill="#CBCBCB"/>
<rect x="243.00" y="505.55" width="64.05" height="32.75" fill="#CBCBCB"/>
<rect x="310.45" y="505.55" width="64.05" height="32.75" fill="#CBCBCB"/>
<rect x="377.90" y="505.55" width="64.05" height="32.75" fill="#CBCBCB"/>
<rect x="445.35" y="505.55" width="64.05" height="32.75" fill="#CBCBCB"/>
<rect x="512.80" y="505.55" width="64.05" height="32.75" fill="#CBCBCB"/>
<rect x="580.25" y="505.55" width="64.05" height="32.75" fill="#CBCBCB"/>
<rect x="647.70" y="505.55" width="64.05" height="32.75" fill="#CBCBCB"/>
<rect x="715.15" y="505.55" width="64.05" height="32.75" fill="#CBCBCB"/>
<rect x="782.60" y="505.55" width="62.85" height="32.75" fill="#CBCBCB"/>
<text x="99.9" y="26.6" font-size="22" font-weight="bold" fill="#000">B(135)【B】徳島のたんじろうのあらくれた地図[特78](イオ)</text>
<text x="62.47" y="62.7" font-size="20" fill="#111">モンスター名</text>
<use href="#ic-fireball" x="275.02" y="55.55"/>
<use href="#ic-flame" x="342.48" y="55.55"/>
<use href="#ic-light" x="409.93" y="55.55"/>
<use href="#ic-ice" x="477.38" y="55.55"/>
<use href="#ic-wind" x="544.83" y="55.55"/>
<use href="#ic-bomb" x="612.27" y="55.55"/>
<use href="#ic-dark" x="679.73" y="55.55"/>
<use href="#ic-earth" x="747.18" y="55.55"/>
<use href="#ic-water" x="814.63" y="55.55"/>
<text class="n" x="9.87" y="103.95">スカルガルー</text>
<use href="#ic-paw" x="200" y="77.55"/>
<text class="sh" x="224.79" y="109.65">1.1</text>
<text class="s" x="224.79" y="109.65" fill="#F78C14">1.1</text>
<text class="v" x="277.41" y="103.95" fill="#000000">-</text>
<text class="v" x="343.14" y="103.95" fill="#FF8600">1.10</text>
<text class="v" x="411.14" y="103.95" fill="#F20606">1.50</text>
<text class="v" x="481.41" y="103.95" fill="#000000">-</text>
<text class="v" x="547.14" y="103.95" fill="#FF8600">1.10</text>
<text class="v" x="617.41" y="103.95" fill="#000000">-</text>
<text class="v" x="685.41" y="103.95" fill="#000000">-</text>
<text class="v" x="753.41" y="103.95" fill="#000000">-</text>
<text class="v" x="821.41" y="103.95" fill="#000000">-</text>
<text class="n" x="9.87" y="142.96">リカントマムル</text>
<use href="#ic-paw" x="200" y="116.56"/>
<text class="sh" x="224.79" y="148.66">1.1</text>
<text class="s" x="224.79" y="148.66" fill="#F78C14">1.1</text>
<text class="v" x="275.14" y="142.96" fill="#0C80F4">0.85</text>
<text class="v" x="343.14" y="142.96" fill="#0C80F4">0.85</text>
<text class="v" x="411.14" y="142.96" fill="#0C80F4">0.85</text>
<text class="v" x="479.14" y="142.96" fill="#0C80F4">0.75</text>
<text class="v" x="549.41" y="142.96" fill="#000000">-</text>
<text class="v" x="615.14" y="142.96" fill="#FF8600">1.20</text>
<text class="v" x="685.41" y="142.96" fill="#000000">-</text>
<text class="v" x="751.14" y="142.96" fill="#FF8600">1.10</text>
<text class="v" x="821.41" y="142.96" fill="#000000">-</text>
<text class="n" x="9.87" y="181.98">ゴールドオーク</text>
<use href="#ic-paw" x="200" y="155.58"/>
<text class="sh" x="224.79" y="187.68">1.1</text>
<text class="s" x="224.79" y="187.68" fill="#F78C14">1.1</text>
<text class="v" x="277.41" y="181.98" fill="#000000">-</text>
<text class="v" x="343.14" y="181.98" fill="#0C80F4">0.85</text>
<text class="v" x="413.41" y="181.98" fill="#000000">-</text>
<text class="v" x="481.41" y="181.98" fill="#000000">-</text>
<text class="v" x="549.41" y="181.98" fill="#000000">-</text>
<text class="v" x="617.41" y="181.98" fill="#000000">-</text>
<text class="v" x="683.14" y="181.98" fill="#FF8600">1.10</text>
<text class="v" x="753.41" y="181.98" fill="#000000">-</text>
<text class="v" x="821.41" y="181.98" fill="#000000">-</text>
<text class="n" x="9.87" y="220.99">アイアンクック</text>
<use href="#ic-gear" x="200" y="194.59"/>
<text class="sh" x="224.79" y="226.69">1.1</text>
<text class="s" x="224.79" y="226.69" fill="#F78C14">1.1</text>
<text class="v" x="275.14" y="220.99" fill="#0000CD">0.65</text>
<text class="v" x="345.41" y="220.99" fill="#000000">-</text>
<text class="v" x="413.41" y="220.99" fill="#000000">-</text>
<text class="v" x="479.14" y="220.99" fill="#0000CD">0.65</text>
<text class="v" x="549.41" y="220.99" fill="#000000">-</text>
<text class="v" x="615.14" y="220.99" fill="#F20606">1.25</text>
<text class="v" x="685.41" y="220.99" fill="#000000">-</text>
<text class="v" x="753.41" y="220.99" fill="#000000">-</text>
<text class="v" x="821.41" y="220.99" fill="#000000">-</text>
<text class="n" x="9.87" y="260.01">ミニデーモン</text>
<use href="#ic-demon" x="200" y="233.61"/>
<text class="sh" x="224.79" y="265.71">1.1</text>
<text class="s" x="224.79" y="265.71" fill="#F78C14">1.1</text>
<text class="v" x="275.14" y="260.01" fill="#0000CD">0.65</text>
<text class="v" x="343.14" y="260.01" fill="#0000CD">0.50</text>
<text class="v" x="413.41" y="260.01" fill="#000000">-</text>
<text class="v" x="479.14" y="260.01" fill="#0000CD">0.65</text>
<text class="v" x="549.41" y="260.01" fill="#000000">-</text>
<text class="v" x="617.41" y="260.01" fill="#000000">-</text>
<text class="v" x="685.41" y="260.01" fill="#000000">-</text>
<text class="v" x="753.41" y="260.01" fill="#000000">-</text>
<text class="v" x="821.41" y="260.01" fill="#000000">-</text>
<text class="n" x="9.87" y="299.02">アイスゴーレム</text>
<use href="#ic-brick" x="200" y="272.62"/>
<text class="sh" x="224.68" y="304.72">1.2</text>
<text class="s" x="224.68" y="304.72" fill="#EE1010">1.2</text>
<text class="v" x="275.14" y="299.02" fill="#FF8600">1.20</text>
<text class="v" x="343.14" y="299.02" fill="#FF8600">1.10</text>
<text class="v" x="411.14" y="299.02" fill="#0000CD">0.50</text>
<text class="v" x="479.14" y="299.02" fill="#0000CD">0.50</text>
<text class="v" x="549.41" y="299.02" fill="#000000">-</text>
<text class="v" x="615.14" y="299.02" fill="#0C80F4">0.75</text>
<text class="v" x="685.41" y="299.02" fill="#000000">-</text>
<text class="v" x="753.41" y="299.02" fill="#000000">-</text>
<text class="v" x="821.41" y="299.02" fill="#000000">-</text>
<text class="n" x="9.87" y="338.03">シルエト</text>
<use href="#ic-ghost" x="200" y="311.63"/>
<text class="sh" x="224.79" y="343.73">1.1</text>
<text class="s" x="224.79" y="343.73" fill="#F78C14">1.1</text>
<text class="v" x="275.14" y="338.03" fill="#0C80F4">0.75</text>
<text class="v" x="343.14" y="338.03" fill="#0C80F4">0.75</text>
<text class="v" x="411.14" y="338.03" fill="#0000CD">0.65</text>
<text class="v" x="479.14" y="338.03" fill="#0C80F4">0.75</text>
<text class="v" x="547.14" y="338.03" fill="#0000CD">0.65</text>
<text class="v" x="615.14" y="338.03" fill="#0C80F4">0.75</text>
<text class="v" x="683.14" y="338.03" fill="#0000CD">0.65</text>
<text class="v" x="751.14" y="338.03" fill="#0000CD">0.65</text>
<text class="v" x="821.41" y="338.03" fill="#000000">-</text>
<text class="n" x="9.87" y="377.05">わらいぶくろ</text>
<use href="#ic-brick" x="200" y="350.65"/>
<text class="sh" x="224.61" y="382.75">1.0</text>
<text class="s" x="224.61" y="382.75" fill="#000000">1.0</text>
<text class="v" x="275.14" y="377.05" fill="#FF8600">1.10</text>
<text class="v" x="343.14" y="377.05" fill="#FF8600">1.10</text>
<text class="v" x="411.14" y="377.05" fill="#FF8600">1.10</text>
<text class="v" x="479.14" y="377.05" fill="#FF8600">1.10</text>
<text class="v" x="547.14" y="377.05" fill="#FF8600">1.10</text>
<text class="v" x="615.14" y="377.05" fill="#FF8600">1.10</text>
<text class="v" x="683.14" y="377.05" fill="#FF8600">1.10</text>
<text class="v" x="751.14" y="377.05" fill="#FF8600">1.10</text>
<text class="v" x="821.41" y="377.05" fill="#000000">-</text>
<text class="n" x="9.87" y="416.06">ほのおのせんし</text>
<use href="#ic-ghost" x="200" y="389.66"/>
<text class="sh" x="224.79" y="421.76">1.1</text>
<text class="s" x="224.79" y="421.76" fill="#F78C14">1.1</text>
<text class="v" x="275.14" y="416.06" fill="#0000CD">0.50</text>
<text class="v" x="343.14" y="416.06" fill="#0000CD">0.50</text>
<text class="v" x="413.41" y="416.06" fill="#000000">-</text>
<text class="v" x="479.14" y="416.06" fill="#FF8600">1.20</text>
<text class="v" x="549.41" y="416.06" fill="#000000">-</text>
<text class="v" x="617.41" y="416.06" fill="#000000">-</text>
<text class="v" x="685.41" y="416.06" fill="#000000">-</text>
<text class="v" x="753.41" y="416.06" fill="#000000">-</text>
<text class="v" x="821.41" y="416.06" fill="#000000">-</text>
<text class="n" x="9.87" y="455.08">シルバーデビル</text>
<use href="#ic-demon" x="200" y="428.68"/>
<text class="sh" x="224.68" y="460.78">1.2</text>
<text class="s" x="224.68" y="460.78" fill="#EE1010">1.2</text>
<text class="v" x="277.41" y="455.08" fill="#000000">-</text>
<text class="v" x="343.14" y="455.08" fill="#FF8600">1.10</text>
<text class="v" x="411.14" y="455.08" fill="#FF8600">1.10</text>
<text class="v" x="481.41" y="455.08" fill="#000000">-</text>
<text class="v" x="549.41" y="455.08" fill="#000000">-</text>
<text class="v" x="615.14" y="455.08" fill="#0000CD">0.65</text>
<text class="v" x="685.41" y="455.08" fill="#000000">-</text>
<text class="v" x="753.41" y="455.08" fill="#000000">-</text>
<text class="v" x="821.41" y="455.08" fill="#000000">-</text>
<text class="n" x="9.87" y="494.09">ホークマン</text>
<use href="#ic-wing" x="200" y="467.69"/>
<text class="sh" x="224.68" y="499.79">1.2</text>
<text class="s" x="224.68" y="499.79" fill="#EE1010">1.2</text>
<text class="v" x="277.41" y="494.09" fill="#000000">-</text>
<text class="v" x="343.14" y="494.09" fill="#0C80F4">0.85</text>
<text class="v" x="411.14" y="494.09" fill="#0000CD">0.65</text>
<text class="v" x="481.41" y="494.09" fill="#000000">-</text>
<text class="v" x="547.14" y="494.09" fill="#FF8600">1.20</text>
<text class="v" x="617.41" y="494.09" fill="#000000">-</text>
<text class="v" x="683.14" y="494.09" fill="#FF8600">1.10</text>
<text class="v" x="753.41" y="494.09" fill="#000000">-</text>
<text class="v" x="821.41" y="494.09" fill="#000000">-</text>
<text class="n" x="9.87" y="533.1">メタルエンゼル</text>
<use href="#ic-slime" x="200" y="506.70"/>
<text class="sh" x="224.61" y="538.8">1.0</text>
<text class="s" x="224.61" y="538.8" fill="#000000">1.0</text>
<text class="m" x="250.04" y="533.1">無効</text>
<text class="m" x="318.04" y="533.1">無効</text>
<text class="m" x="386.04" y="533.1">無効</text>
<text class="m" x="454.04" y="533.1">無効</text>
<text class="m" x="522.04" y="533.1">無効</text>
<text class="m" x="590.04" y="533.1">無効</text>
<text class="m" x="658.04" y="533.1">無効</text>
<text class="m" x="726.04" y="533.1">無効</text>
<text class="m" x="794.04" y="533.1">無効</text>
<path fill="#EE0000" fill-rule="evenodd" d="M374.1 35.4H442.8V543.6H374.1Z M378.6 39.7V538.6H438.3V39.7Z"/>
<text x="588.84" y="572.3" font-size="18" fill="#000" stroke="#000" stroke-width="0.25" stroke-opacity=".7">generated by CranberryBot</text>
<use href="#ic-cranberry" x="800" y="543"/>
</svg>
<div class="foot">generated by CranberryBot</div>
<table class="sem"><caption>B(135)【B】徳島のたんじろうのあらくれた地図[特78](イオ)</caption><thead><tr><th>モンスター名</th><th>メラ</th><th>炎</th><th>光</th><th>氷</th><th>風</th><th>爆発</th><th>闇</th><th>土</th><th>水</th></tr></thead><tbody><tr><th>スカルガルー <small>1.1</small></th><td>-</td><td>1.10</td><td>1.50</td><td>-</td><td>1.10</td><td>-</td><td>-</td><td>-</td><td>-</td></tr><tr><th>リカントマムル <small>1.1</small></th><td>0.85</td><td>0.85</td><td>0.85</td><td>0.75</td><td>-</td><td>1.20</td><td>-</td><td>1.10</td><td>-</td></tr><tr><th>ゴールドオーク <small>1.1</small></th><td>-</td><td>0.85</td><td>-</td><td>-</td><td>-</td><td>-</td><td>1.10</td><td>-</td><td>-</td></tr><tr><th>アイアンクック <small>1.1</small></th><td>0.65</td><td>-</td><td>-</td><td>0.65</td><td>-</td><td>1.25</td><td>-</td><td>-</td><td>-</td></tr><tr><th>ミニデーモン <small>1.1</small></th><td>0.65</td><td>0.50</td><td>-</td><td>0.65</td><td>-</td><td>-</td><td>-</td><td>-</td><td>-</td></tr><tr><th>アイスゴーレム <small>1.2</small></th><td>1.20</td><td>1.10</td><td>0.50</td><td>0.50</td><td>-</td><td>0.75</td><td>-</td><td>-</td><td>-</td></tr><tr><th>シルエト <small>1.1</small></th><td>0.75</td><td>0.75</td><td>0.65</td><td>0.75</td><td>0.65</td><td>0.75</td><td>0.65</td><td>0.65</td><td>-</td></tr><tr><th>わらいぶくろ <small>1.0</small></th><td>1.10</td><td>1.10</td><td>1.10</td><td>1.10</td><td>1.10</td><td>1.10</td><td>1.10</td><td>1.10</td><td>-</td></tr><tr><th>ほのおのせんし <small>1.1</small></th><td>0.50</td><td>0.50</td><td>-</td><td>1.20</td><td>-</td><td>-</td><td>-</td><td>-</td><td>-</td></tr><tr><th>シルバーデビル <small>1.2</small></th><td>-</td><td>1.10</td><td>1.10</td><td>-</td><td>-</td><td>0.65</td><td>-</td><td>-</td><td>-</td></tr><tr><th>ホークマン <small>1.2</small></th><td>-</td><td>0.85</td><td>0.65</td><td>-</td><td>1.20</td><td>-</td><td>1.10</td><td>-</td><td>-</td></tr><tr><th>メタルエンゼル <small>1.0</small></th><td>無効</td><td>無効</td><td>無効</td><td>無効</td><td>無効</td><td>無効</td><td>無効</td><td>無効</td><td>無効</td></tr></tbody></table>
</body></html>
